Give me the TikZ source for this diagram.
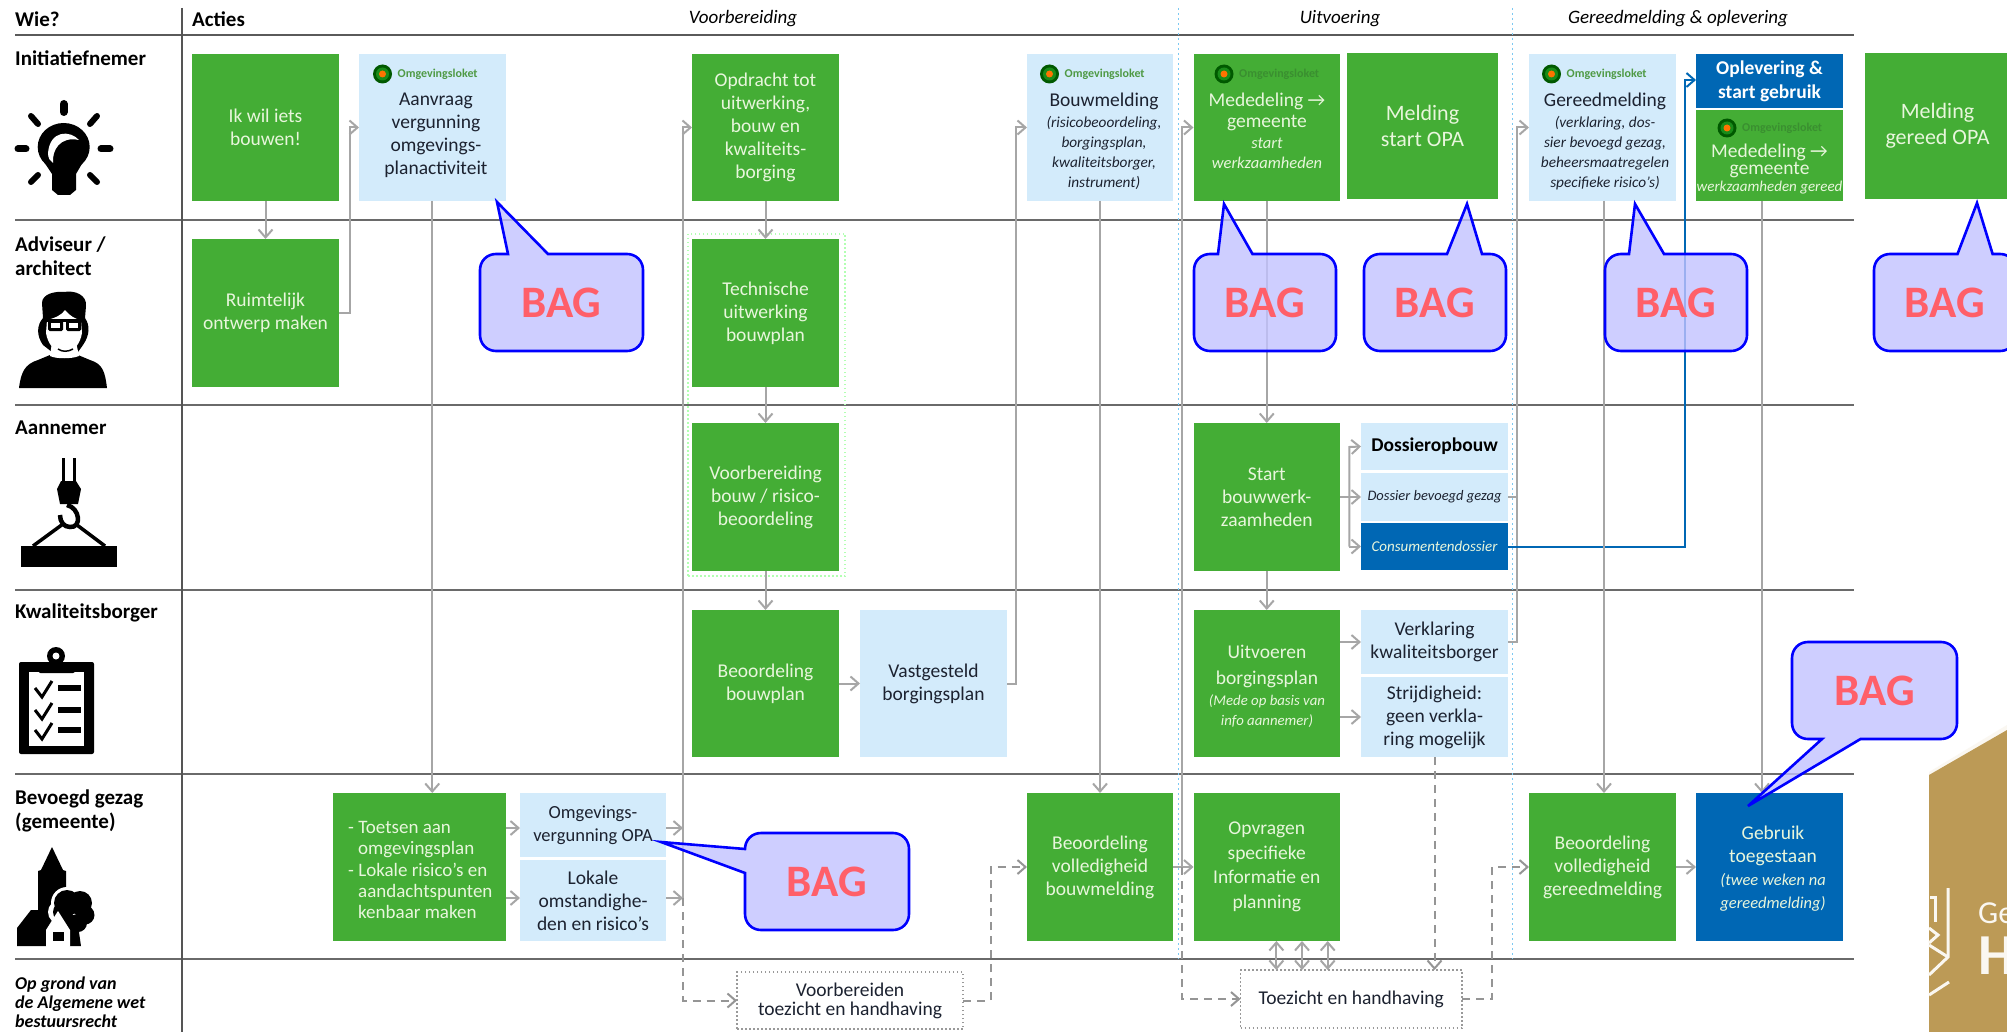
\documentclass[tikz,border=0pt]{standalone}
\usepackage{fontspec}
\setmainfont{Carlito}
\usetikzlibrary{arrows.meta}
\definecolor{grn}{HTML}{44AD35}
\definecolor{lblue}{HTML}{D3EBFB}
\definecolor{dblue}{HTML}{0067B4}
\definecolor{gtext}{HTML}{E8F6DC}
\definecolor{dtext}{HTML}{1C2230}
\definecolor{arrgray}{HTML}{A6A6A6}
\definecolor{rule}{HTML}{6A6A6A}
\definecolor{tan}{HTML}{BC9A56}
\definecolor{bagfill}{HTML}{C2C2FF}
\definecolor{bagred}{HTML}{FF5F69}
\definecolor{logoA}{HTML}{4F9A45}
\definecolor{logoB}{HTML}{3A8F30}
\definecolor{dotblue}{HTML}{7CC8F2}
\newcommand\itl{\fontsize{16.5}{20}\selectfont\itshape}
\newcommand\itb{\fontsize{15.3}{20}\selectfont\itshape}
\newcommand\fsz[2]{\fontsize{#1}{#2}\selectfont}
\tikzset{
 x=1pt,y=-1pt,
 bx/.style={inner sep=0pt,outer sep=0pt,align=center,font=\fsz{19.5}{23}},
 gbox/.style={bx,fill=grn,text=gtext},
 lbox/.style={bx,fill=lblue,text=dtext},
 dbox/.style={bx,fill=dblue,text=gtext},
 frm/.style={bx,draw=gray!80,line width=1.4pt,dash pattern=on 1.5pt off 2.5pt,text=dtext},
 gtxt/.style={align=center,inner sep=0pt,text=gtext,font=\fsz{19.5}{23}},
 btxt/.style={align=center,inner sep=0pt,text=dtext,font=\fsz{19.5}{23}},
 big/.style={font=\fsz{22}{26}},
 lab/.style={anchor=west,align=left,inner sep=0pt,text=black,font=\fsz{21}{24}\bfseries},
 hdr/.style={inner sep=0pt,text=black,font=\fsz{19}{24}\itshape},
 hline/.style={draw=rule,line width=1.7pt},
 bdot/.style={draw=dotblue,line width=1.6pt,dash pattern=on 2pt off 3pt},
 tipb/.style={-{Straight Barb[length=8pt,width=14pt]}},
 arr/.style={draw=arrgray,line width=2pt,tipb},
 plain/.style={draw=arrgray,line width=2pt},
 dsh/.style={draw=arrgray!90!black,line width=2pt,dash pattern=on 8pt off 6pt,tipb},
 dshp/.style={draw=arrgray!90!black,line width=2pt,dash pattern=on 8pt off 6pt},
 arrd/.style={draw=arrgray,line width=2pt,{Straight Barb[length=8pt,width=14pt]}-{Straight Barb[length=8pt,width=14pt]}},
 blu/.style={draw=dblue,line width=2pt,tipb},
 bagshape/.style={draw=blue,line width=2.6pt,fill=bagfill,fill opacity=0.8,line join=miter},
 bagtext/.style={inner sep=0pt,text=bagred,font=\fsz{45}{50}\bfseries},
 logotxt/.style={anchor=west,inner sep=0pt,font=\fsz{12}{14}\bfseries},
}
\newcommand\bx[7]{\node[#1,minimum width={(#5-#3)*1pt},minimum height={(#6-#4)*1pt}] (#2) at ({(#3+#5)/2},{(#4+#6)/2}) {#7};}
\newcommand\logo[4]{%
 \node[circle,fill=green!35!black,minimum size=19pt,inner sep=0pt] (#1) at (#2,#3) {};
 \fill[green!50!black!90] (#1) circle (6.5);
 \fill[orange!90!red] (#1) circle (3.5);
 \node[logotxt,text=#4] at (#2+15,#3) {Omgevingsloket};}
\newcommand\bag[9]{%
 \draw[bagshape] ({#2+16},#3) #6 -- ({#4-16},#3) .. controls ({#4-7},#3) and (#4,{#3+7}) .. (#4,{#3+16})
  #7 -- (#4,{#5-16}) .. controls (#4,{#5-7}) and ({#4-7},#5) .. ({#4-16},#5)
  #8 -- ({#2+16},#5) .. controls ({#2+7},#5) and (#2,{#5-7}) .. (#2,{#5-16})
  #9 -- (#2,{#3+16}) .. controls (#2,{#3+7}) and ({#2+7},#3) .. ({#2+16},#3) -- cycle;
 \node[bagtext] (#1) at ({(#2+#4)/2},{(#3+#5)/2}) {BAG};}
\begin{document}
\begin{tikzpicture}
\useasboundingbox (0,0) rectangle (2007,1032);
\clip (0,0) rectangle (2007,1032);
\fill[white] (0,0) rectangle (2007,1032);
% tan logo
\fill[white!92!tan] (1929,772) -- (2007,725) -- (2007,1032) -- (1929,1032) -- cycle;
\fill[tan] (1929,775) -- (2007,730) -- (2007,1032) -- (1929,1032) -- cycle;
\draw[white!92!tan,line width=3pt] (1948,888) -- (1948,957) -- (1929,975);
\draw[white!92!tan,line width=3pt] (1949,982) -- (1929,995);
\draw[white!92!tan,line width=3pt] (1929,928) -- (1938,935) -- (1929,943);
\draw[white!92!tan,line width=3pt] (1929,945) -- (1948,957);
\draw[white!92!tan,line width=3pt] (1930,897) -- (1935,897) -- (1935,922);
\node[anchor=west,inner sep=0pt,text=white!92!tan,font=\fsz{32}{36}] (tanA) at (1978,913) {Ge};
\node[anchor=west,inner sep=0pt,text=white!92!tan,font=\fsz{58}{60}\bfseries] (tanB) at (1978,956) {H};
% rules
\draw[hline,draw=rule!85!black] (15,34.7) -- (1854,34.7);
\foreach \yy in {220,405,589.7,774.3,959} \draw[hline] (15,\yy) -- (1854,\yy);
\draw[draw=rule!80!black,line width=1.5pt] (182,8) -- (182,1032);
\draw[bdot] (1178.5,8) -- (1178.5,959);
\draw[bdot] (1512.6,8) -- (1512.6,959);
% headers and labels
\node[lab] (wie) at (15,19) {Wie?};
\node[lab] (acties) at (192,19) {Acties};
\node[hdr] (h1) at (743,19) {Voorbereiding};
\node[hdr] (h2) at (1340,19) {Uitvoering};
\node[hdr] (h3) at (1678,19) {Gereedmelding \& oplevering};
\node[lab] (l1) at (15,58) {Initiatiefnemer};
\node[lab] (l2) at (15,256) {Adviseur /\\architect};
\node[lab] (l3) at (15,428) {Aannemer};
\node[lab] (l4) at (15,613) {Kwaliteitsborger};
\node[lab] (l5) at (15,811) {Bevoegd gezag\\(gemeente)};
\node[lab,font=\fsz{18}{19}\bfseries\itshape] (l6) at (15,1002) {Op grond van\\de Algemene wet\\bestuursrecht};
% icon: bulb
\begin{scope}[line cap=round]
\draw[line width=8pt] (63.7,104) -- (63.7,112);
\draw[line width=7pt] (18,149) -- (26,149);
\draw[line width=7pt] (101,149) -- (110,149);
\draw[line width=6pt] (31,116) -- (38,124);
\draw[line width=6pt] (97,116) -- (90,124);
\draw[line width=6pt] (31,182) -- (38,175);
\draw[line width=6pt] (97,182) -- (90,175);
\end{scope}
\fill (63.7,147) ellipse [x radius=26,y radius=24];
\fill (44,162) -- (83,162) -- (76,174) -- (76,190) -- (70,195) -- (58,195) -- (52,190) -- (52,174) -- cycle;
\fill[white] (79,140) .. controls (70,130) and (50,130) .. (48,153) .. controls (48,158) and (50,161) .. (53,163) .. controls (52,150) and (60,136) .. (79,140) -- cycle;
% icon: person
\fill (19,388) .. controls (21,372) and (25,364) .. (38,360) -- (50,355) .. controls (56,358) and (72,358) .. (78,355) -- (90,360) .. controls (103,364) and (105,372) .. (107,388) -- cycle;
\fill (43,345) .. controls (36,335) and (37,325) .. (43,318) -- (42,303) .. controls (42,294) and (55,291) .. (64,292) .. controls (75,290) and (87,295) .. (86,306) -- (85,318) .. controls (90,325) and (90,335) .. (83,345) -- (78,352) -- (64,358) -- (52,352) -- cycle;
\fill[white] (52,342) -- (76,342) -- (79,356) .. controls (72,359) and (56,359) .. (50,356) -- cycle;
\fill[white] (47,320) .. controls (55,318) and (62,315) .. (65,310) .. controls (70,316) and (75,319) .. (81,320) -- (82,333) .. controls (80,345) and (73,352) .. (64,353) .. controls (55,352) and (48,345) .. (46,333) -- cycle;
\draw[line width=1.5pt] (58,349) .. controls (62,352) and (68,352) .. (73,349);
\fill[rounded corners=1.5pt] (48,320) rectangle (63,331);
\fill[rounded corners=1.5pt] (66,320) rectangle (81,331);
\fill (46,319) rectangle (83,322);
\fill[white] (51,323) rectangle (60,328);
\fill[white] (69,323) rectangle (78,328);
% icon: crane hook
\fill (62,458) rectangle (65,482);
\fill (73,458) rectangle (76,482);
\fill (61,481) -- (76,481) -- (81,489) -- (78,504) -- (60,504) -- (57,489) -- cycle;
\draw[line width=4.5pt] (67,505) .. controls (80,508) and (82,528) .. (70,527) .. controls (64,527) and (60,522) .. (60,515);
\draw[line width=3.5pt] (33,546) -- (63,524);
\draw[line width=3.5pt] (105,546) -- (77,525);
\fill (21,546) rectangle (117,567);
% icon: clipboard
\fill[rounded corners=2pt] (19,662) rectangle (94,754);
\fill[white] (28.5,672) rectangle (84,746);
\fill[rounded corners=2pt] (38.5,662) rectangle (75,673);
\fill (56,656) circle (9);
\fill[white] (56,656) circle (3.5);
\foreach \yy in {688,710,730}{
 \draw[line width=3pt] (35,\yy) -- (42,\yy+9) -- (52,\yy-7);
 \fill (58,\yy-3) rectangle (81,\yy+3);
}
% icon: church
\fill (52,847) -- (63,870) -- (66,871) -- (66,915) -- (46,946) -- (17,946) -- (17,928) -- (31,910) -- (38,910) -- (38,871) -- (41,870) -- cycle;
\fill[white] (67,903) circle (16);
\fill[white] (60,912) circle (12);
\fill (67,903) circle (13);
\fill (80,903) circle (12);
\fill (85,915) circle (9.5);
\fill (78,923) circle (9);
\fill (63,912) circle (10);
\fill (60,915) -- (81,915) -- (79,932) -- (81,946) -- (70,946) -- (60,925) -- cycle;
\fill (17,930) -- (46,930) -- (46,946) -- (17,946) -- cycle;
\fill[white] (46,946) -- (46,930) -- (58,911) -- (70,930) -- (70,946) -- cycle;
\fill (53,932) rectangle (64,941);
% boxes
\bx{gbox}{ik}{192}{54}{339}{201}{Ik wil iets\\bouwen!}
\bx{lbox}{aanvraag}{359}{54}{505.5}{201}{}
\bx{gbox}{ruimte}{192}{239}{339}{387}{Ruimtelijk\\ontwerp maken}
\bx{gbox}{opdracht}{692}{54}{839}{201}{Opdracht tot\\uitwerking,\\bouw en\\kwaliteits-\\borging}
\bx{frm,fill=none,draw=green!30!white,line width=1.1pt}{groep}{688}{234}{845}{576}{}
\bx{gbox}{techn}{692}{239}{839}{387}{Technische\\uitwerking\\bouwplan}
\bx{gbox}{voorb}{692}{423}{839}{571}{Voorbereiding\\bouw / risico-\\beoordeling}
\bx{lbox}{bouwm}{1027}{54}{1173}{201}{}
\bx{gbox}{meded}{1193.5}{54}{1340}{201}{}
\bx{gbox,big}{mstart}{1347}{53}{1498}{199}{Melding\\start OPA}
\bx{lbox}{gereed}{1529}{54}{1676}{201}{}
\bx{dbox,font=\fsz{19.5}{24}\bfseries,text=white}{oplev}{1696}{54}{1843}{108}{Oplevering \&\\start gebruik}
\bx{gbox}{meded2}{1696}{110}{1843}{201}{}
\bx{gbox,big}{mgereed}{1865}{53}{2010}{199}{Melding\\gereed OPA}
\bx{gbox}{startb}{1193.5}{423}{1340}{571}{Start\\bouwwerk-\\zaamheden}
\bx{lbox,font=\fsz{19.5}{24}\bfseries,text=black}{dossier}{1361}{423}{1508}{470}{Dossieropbouw}
\bx{lbox,font=\fsz{14.5}{18}\itshape}{dosbg}{1361}{473}{1508}{521}{Dossier bevoegd gezag}
\bx{dbox,font=\fsz{15}{18}\itshape}{consu}{1361}{523}{1508}{570}{Consumentendossier}
\bx{gbox}{beoord}{692}{610}{839}{757}{Beoordeling\\bouwplan}
\bx{lbox}{vastg}{860}{610}{1007}{757}{Vastgesteld\\borgingsplan}
\bx{gbox}{uitv}{1193.5}{610}{1340}{757}{}
\bx{lbox}{verkl}{1361}{610}{1508}{674}{Verklaring\\kwaliteitsborger}
\bx{lbox}{strijd}{1361}{677}{1508}{757}{Strijdigheid:\\geen verkla-\\ring mogelijk}
\bx{gbox}{toets}{333}{793}{505.5}{941}{}
\bx{lbox,font=\fsz{18.5}{23}}{omgv}{520}{793}{666}{857}{Omgevings-\\vergunning OPA}
\bx{lbox}{lokale}{520}{860}{666}{941}{Lokale\\omstandighe-\\den en risico's}
\bx{gbox}{bvb}{1027}{793}{1173}{941}{Beoordeling\\volledigheid\\bouwmelding}
\bx{gbox,font=\fsz{19.5}{24.5}}{opvr}{1193.5}{793}{1340}{941}{Opvragen\\specifieke\\Informatie en\\planning}
\bx{gbox}{bvg}{1529}{793}{1676}{941}{Beoordeling\\volledigheid\\gereedmelding}
\bx{dbox}{gebr}{1696}{793}{1843}{941}{}
\bx{frm,font=\fsz{19.5}{19}}{vth}{737}{972}{963}{1029}{Voorbereiden\\toezicht en handhaving}
\bx{frm}{toez}{1240.5}{970}{1462}{1028}{Toezicht en handhaving}
% box texts
\logo{lg1}{382.5}{74}{logoA}
\node[btxt] (t1) at (436,135) {Aanvraag\\vergunning\\omgevings-\\planactiviteit};
\logo{lg2}{1049.5}{74}{logoA}
\node[btxt] (t2) at (1104,141) {Bouwmelding\\[-2pt]{\itb (risicobeoordeling,}\\[-3pt]{\itb borgingsplan,}\\[-3pt]{\itb kwaliteitsborger,}\\[-3pt]{\itb instrument)}};
\logo{lg3}{1224}{74}{logoB}
\node[gtxt] (t3) at (1267,131) {Mededeling →\\[-2pt]gemeente\\[-2pt]{\itl start}\\[-3pt]{\itl werkzaamheden}};
\logo{lg4}{1551.5}{74}{logoA}
\node[btxt] (t4) at (1605,141) {Gereedmelding\\[-2pt]{\itb (verklaring, dos-}\\[-3pt]{\itb sier bevoegd gezag,}\\[-3pt]{\itb beheersmaatregelen}\\[-3pt]{\itb specifieke risico's)}};
\logo{lg5}{1727}{128}{logoB}
\node[gtxt] (t5) at (1769.5,169) {Mededeling →\\[-6pt]gemeente\\[-6pt]{\fontsize{15}{18}\selectfont\itshape werkzaamheden gereed}};
\node[gtxt] (t6) at (1267,686) {Uitvoeren\\[3pt]borgingsplan\\[-2pt]{\fontsize{14.8}{18}\selectfont\itshape (Mede op basis van}\\[-3pt]{\fontsize{14.8}{18}\selectfont\itshape info aannemer)}};
\node[gtxt,anchor=west,align=left,font=\fsz{19}{21.4}] (t7) at (348,870) {- Toetsen aan\\\hspace*{10pt}omgevingsplan\\- Lokale risico's en\\\hspace*{10pt}aandachtspunten\\\hspace*{10pt}kenbaar maken};
\node[gtxt] (t8) at (1773,869) {Gebruik\\toegestaan\\{\itl (twee weken na}\\{\itl gereedmelding)}};
% connectors
\coordinate (r1) at (683,127);
\coordinate (r2) at (349.5,127);
\coordinate (r3) at (1016,127);
\coordinate (r4) at (1182.4,127);
\coordinate (r5) at (1517,127);
\coordinate (r6) at (1685,80);
\coordinate (r7) at (990.5,867);
\coordinate (r8) at (1492,867);
\coordinate (r9) at (1349.4,447);
\draw[arr] (ik) -- (ruimte);
\draw[arr] (ruimte.east) -- (ruimte.east -| r2) -- (r2 |- aanvraag.west) -- (aanvraag.west);
\draw[arr] (aanvraag.south) -- (aanvraag.south |- toets.north);
\draw[arr] (toets.east |- 0,828) -- (omgv.west |- 0,828);
\draw[arr] (toets.east |- 0,898) -- (lokale.west |- 0,898);
\draw[arr] (omgv.east |- 0,828) -- (r1 |- 0,828);
\draw[arr] (lokale.east |- 0,898) -- (r1 |- 0,898);
\draw[arr] (r1 |- 0,898) -- (r1 |- opdracht.west) -- (opdracht.west);
\draw[dsh] (r1 |- 0,898) -- (r1 |- vth.west) -- (vth.west);
\draw[arr] (opdracht) -- (techn);
\draw[arr] (techn) -- (voorb);
\draw[arr] (voorb) -- (beoord);
\draw[arr] (beoord) -- (vastg);
\draw[arr] (vastg.east) -- (vastg.east -| r3) -- (r3 |- bouwm.west) -- (bouwm.west);
\draw[arr] (bouwm) -- (bvb);
\draw[dsh] (vth.east) -- (vth.east -| r7) -- (r7) -- (r7 -| bvb.west);
\draw[arr] (bvb.east) -- (opvr.west);
\draw[arr] (r4 |- bvb.east) -- (r4 |- meded.west) -- (meded.west);
\draw[dsh] (r4 |- bvb.east) -- (r4 |- toez.west) -- (toez.west);
\draw[arr] (meded) -- (startb);
\draw[arr] (startb) -- (uitv);
\draw[plain] (startb.east |- dosbg.west) -- (r9 |- dosbg.west);
\draw[arr] (r9 |- dosbg.west) -- (dosbg.west);
\draw[arr] (r9 |- consu.west) -- (r9) -- (dossier.west);
\draw[arr] (r9 |- consu.west) -- (consu.west);
\draw[arr] (uitv.east |- verkl.west) -- (verkl.west);
\draw[arr] (uitv.east |- strijd.west) -- (strijd.west);
\draw[arr] (verkl.east) -- (verkl.east -| r5) -- (r5 |- gereed.west) -- (gereed.west);
\draw[plain] (dosbg.east) -- (dosbg.east -| r5);
\draw[blu] (consu.east) -- (consu.east -| r6) -- (r6) -- (r6 -| oplev.west);
\draw[arr] (gereed.south -| 1604,0) -- (bvg.north -| 1604,0);
\draw[arr] (meded2.south -| 1762,0) -- (gebr.north -| 1762,0);
\draw[arr] (bvg) -- (gebr);
\draw[dsh] (strijd.south) -- (strijd.south |- toez.north);
\draw[dsh] (toez.east) -- (toez.east -| r8) -- (r8) -- (r8 -| bvg.west);
\foreach \xx in {1276.4,1302,1327.7} \draw[arrd] (opvr.south -| \xx,0) -- (toez.north -| \xx,0);
% callouts
\bag{bag1}{480}{254}{643}{351}{-- (508,254) -- (497,202) -- (548,254)}{}{}{}
\bag{bag2}{1194}{254}{1336}{351}{-- (1218,254) -- (1224,204) -- (1252.5,254)}{}{}{}
\bag{bag3}{1364}{254}{1506}{351}{-- (1447,254) -- (1467,204) -- (1482,254)}{}{}{}
\bag{bag4}{1605}{254}{1747}{351}{-- (1629,254) -- (1635,204) -- (1664,254)}{}{}{}
\bag{bag5}{1874}{254}{2016}{351}{-- (1957.5,254) -- (1977,203) -- (1992.6,254)}{}{}{}
\bag{bag6}{745}{833}{909}{930}{}{}{}{-- (745,873) -- (661,842) -- (745,849)}
\bag{bag7}{1792}{642}{1957}{739}{}{}{-- (1860.5,739) -- (1748,806) -- (1822,739)}{}
\end{tikzpicture}
\end{document}
